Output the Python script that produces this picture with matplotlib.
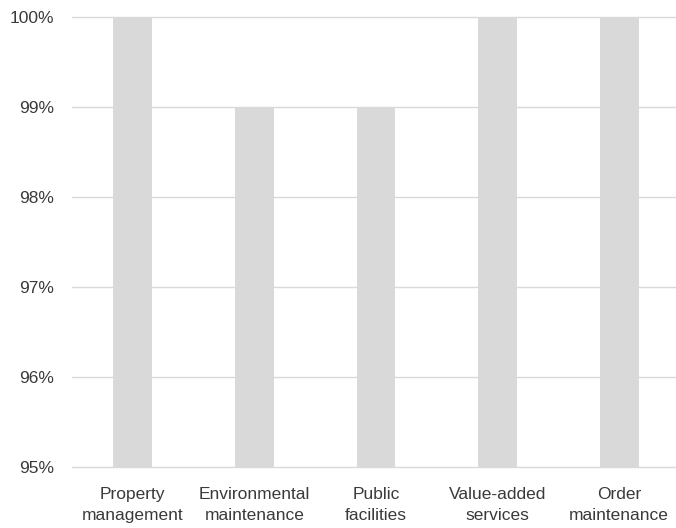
import matplotlib
matplotlib.use("Agg")
import matplotlib.pyplot as plt
import matplotlib.ticker as ticker

categories = ["Property\nmanagement", "Environmental\nmaintenance", "Public\nfacilities",
              "Value-added\nservices", "Order\nmaintenance"]
values = [100, 99, 99, 100, 100]

plt.rcParams["font.family"] = ["Liberation Sans", "DejaVu Sans"]

fig = plt.figure(figsize=(6.76, 5.28), dpi=100)
ax = fig.add_axes([72 / 676, 61 / 528, 608 / 676, 450 / 528])

x = range(len(categories))
ax.bar(x, values, width=0.32, color="#d9d9d9", zorder=2)

ax.set_ylim(95, 100)
ax.set_xlim(-0.5, len(categories) - 0.5)
ax.yaxis.set_major_locator(ticker.MultipleLocator(1))
ax.yaxis.set_major_formatter(ticker.FuncFormatter(lambda v, p: "%d%%" % v))
ax.grid(axis="y", color="#d9d9d9", linewidth=1, zorder=0)
for gl in ax.get_ygridlines():
    gl.set_clip_on(False)
ax.set_xticks(list(x))
ax.set_xticklabels(categories, linespacing=1.5)

for spine in ax.spines.values():
    spine.set_visible(False)
ax.tick_params(axis="both", length=0, labelsize=12.5, colors="#3a3a3a")
ax.tick_params(axis="y", pad=13)
ax.tick_params(axis="x", pad=14.5)

fig.savefig("out.png", dpi=100)
